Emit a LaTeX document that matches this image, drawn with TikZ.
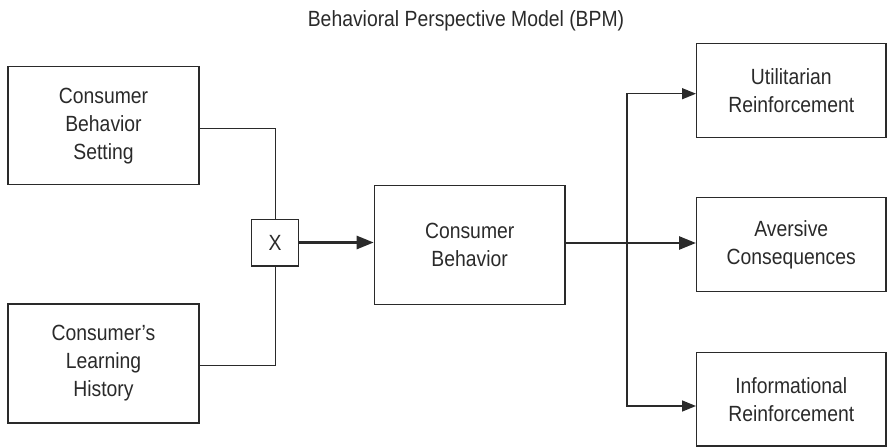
\documentclass[tikz,border=0pt]{standalone}
\usepackage{fontspec}
\setmainfont{Liberation Sans}[FakeStretch=0.88]
\usetikzlibrary{arrows.meta}
\definecolor{ink}{HTML}{2A2A2A}
\begin{document}
\begin{tikzpicture}[x=1pt,y=-1pt,
  box/.style={draw=ink, line width=1.3pt, text=ink, align=center, inner sep=0pt,
    font=\fontsize{22}{28}\selectfont},
  lnk/.style={draw=ink, line width=1.3pt},
  thk/.style={draw=ink, line width=2.6pt, -{Triangle[length=17pt,width=13pt]}},
  arr/.style={draw=ink, line width=1.5pt, -{Triangle[length=14pt,width=11pt]}}]
\useasboundingbox (0,0) rectangle (887,447);
\node[text=ink, font=\fontsize{22}{26}\selectfont, anchor=base] (title) at (466,26.7) {Behavioral Perspective Model (BPM)};
\node[box, minimum width=191pt, minimum height=118pt] (setting) at (103.5,125.8) {Consumer\\Behavior\\Setting};
\node[box, minimum width=191pt, minimum height=119pt] (history) at (103.5,363.5) {Consumer’s\\Learning\\History};
\node[box, minimum width=47pt, minimum height=46.7pt] (x) at (275.2,242.5) {X};
\node[box, minimum width=190.7pt, minimum height=118.6pt] (cb) at (469.7,245) {Consumer\\Behavior};
\node[box, minimum width=189.3pt, minimum height=94pt] (util) at (791.3,90.3) {Utilitarian\\Reinforcement};
\node[box, minimum width=189.3pt, minimum height=94pt] (avers) at (791.3,244.7) {Aversive\\Consequences};
\node[box, minimum width=189.3pt, minimum height=93.7pt] (info) at (791.3,399.2) {Informational\\Reinforcement};
\coordinate (branch) at (627,243);
\draw[lnk] ([yshift=-3pt]setting.east) -| (x.north);
\draw[lnk] ([yshift=-2pt]history.east) -| (x.south);
\draw[thk] (x.east) -- (x.east -| cb.west);
\draw[thk] (cb.east |- branch) -- (branch -| avers.west);
\draw[arr] (branch) |- ([yshift=-3.4pt]util.west);
\draw[arr] (branch) |- ([yshift=-6.8pt]info.west);
\end{tikzpicture}
\end{document}
